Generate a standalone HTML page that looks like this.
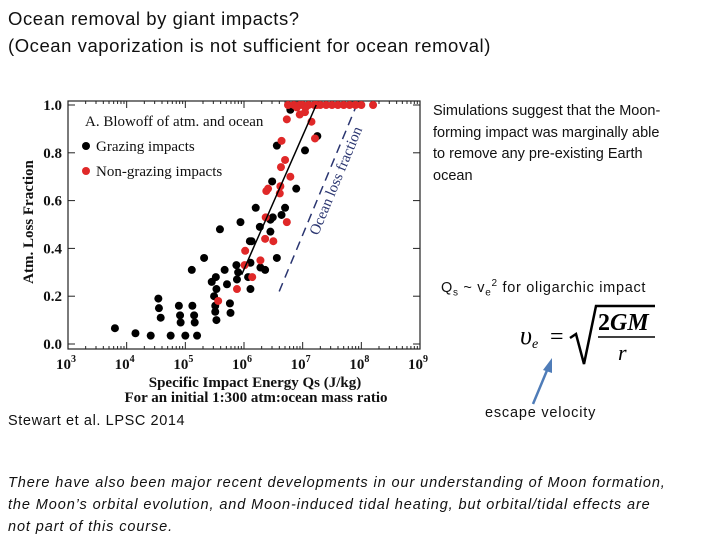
<!DOCTYPE html>
<html><head><meta charset="utf-8"><style>
body{margin:0;background:#fff;}
#root{position:relative;width:720px;height:540px;overflow:hidden;font-family:"Liberation Sans",sans-serif;color:#111;}
.t{position:absolute;white-space:nowrap;}
</style></head><body>
<div id="root">
<div class="t" style="left:8px;top:5px;font-size:18.5px;line-height:27px;letter-spacing:0.55px;">Ocean removal by giant impacts?<br>(Ocean vaporization is not sufficient for ocean removal)</div>
<div class="t" style="left:433px;top:101px;font-size:14.5px;line-height:21.5px;">Simulations suggest that the Moon-<br>forming impact was marginally able<br>to remove any pre-existing Earth<br>ocean</div>
<div class="t" style="left:441px;top:278px;font-size:14.5px;letter-spacing:0.7px;">Q<sub style="font-size:10px">s</sub> ~ v<sub style="font-size:10px">e</sub><sup style="font-size:10px">2</sup> for oligarchic impact</div>
<svg style="position:absolute;left:490px;top:300px" width="180" height="70">
<text x="30" y="44" font-family="Liberation Serif" font-style="italic" font-size="26">υ<tspan font-size="14" dy="4">e</tspan></text>
<text x="60" y="44" font-family="Liberation Serif" font-size="24">=</text>
<path d="M80 38 L86 34 L94 64 L106 6 L165 6" stroke="#000" stroke-width="2.5" fill="none"/>
<text x="108" y="30" font-family="Liberation Serif" font-size="24" font-weight="bold">2<tspan font-style="italic">GM</tspan></text>
<line x1="108" y1="37" x2="165" y2="37" stroke="#000" stroke-width="1.5"/>
<text x="128" y="60" font-family="Liberation Serif" font-style="italic" font-size="22">r</text>
</svg>
<svg style="position:absolute;left:0;top:0" width="720" height="540">
<line x1="533" y1="404" x2="548" y2="368" stroke="#4f7cb8" stroke-width="2.5"/>
<polygon points="552,358 543,370 552,373" fill="#4f7cb8"/>
</svg>
<div class="t" style="left:485px;top:405px;font-size:14.5px;letter-spacing:0.8px;">escape velocity</div>
<div class="t" style="left:8px;top:413px;font-size:14.5px;letter-spacing:0.6px;">Stewart et al. LPSC 2014</div>
<div class="t" style="left:8px;top:472px;font-size:14.5px;line-height:22px;font-style:italic;letter-spacing:0.9px;">There have also been major recent developments in our understanding of Moon formation,<br>the Moon’s orbital evolution, and Moon-induced tidal heating, but orbital/tidal effects are<br>not part of this course.</div>
<svg id="chart" style="position:absolute;left:0;top:0" width="720" height="540"></svg>
</div>
<script>
const grazingQ=[3.80,4.15,4.41,4.75,5.00,5.20,4.54,4.55,4.58,4.89,4.91,4.92,5.12,5.15,5.16,5.11,5.32,5.45,5.52,5.49,5.51,5.51,5.53,5.53,5.59,5.67,5.71,5.76,5.77,5.87,5.88,5.94,5.90,6.07,6.10,6.13,6.11,6.11,6.20,6.27,6.28,6.36,6.45,6.45,6.48,6.49,6.56,6.56,6.70,6.64,6.89,6.79,7.04,7.25];
const grazingF=[0.066,0.045,0.035,0.035,0.035,0.035,0.19,0.15,0.11,0.16,0.12,0.09,0.16,0.12,0.09,0.31,0.36,0.26,0.28,0.20,0.16,0.135,0.10,0.23,0.48,0.31,0.25,0.17,0.13,0.33,0.27,0.51,0.30,0.28,0.43,0.43,0.34,0.23,0.57,0.49,0.32,0.31,0.47,0.52,0.68,0.53,0.36,0.83,0.57,0.54,0.65,0.98,0.81,0.87];
const nonGrazingQ=[5.56,5.88,6.01,6.02,6.14,6.28,6.36,6.38,6.41,6.50,6.37,6.61,6.62,6.63,6.64,6.70,6.73,6.79,6.73,6.95,7.04,7.15,7.21,7.24,6.75,6.85,6.95,7.0,7.1,7.2,7.3,7.4,7.5,7.6,7.7,7.8,7.9,8.0,8.2,6.9,7.05];
const nonGrazingF=[0.18,0.23,0.33,0.39,0.28,0.35,0.44,0.64,0.65,0.43,0.53,0.63,0.66,0.74,0.85,0.77,0.51,0.70,0.94,0.96,0.97,0.93,0.86,1.0,1.0,1.0,1.0,1.0,1.0,1.0,1.0,1.0,1.0,1.0,1.0,1.0,1.0,1.0,1.0,0.99,0.99];
const fitQ=[5.96,7.23], fitF=[0.29,1.0];
const oceanQ=[6.60,7.92], oceanF=[0.22,1.0];
const xTicks=[3,4,5,6,7,8,9];
const yTicks=[0,0.2,0.4,0.6,0.8,1.0];
const L=68,R=420,T=101,B=349;
const X=q=>L+(q-3)/6*(R-L);
const Y=f=>344-f*(344-105);
const svg=document.getElementById('chart');
const NS='http://www.w3.org/2000/svg';
function mk(tag,attrs){const e=document.createElementNS(NS,tag);for(const k in attrs)e.setAttribute(k,attrs[k]);svg.appendChild(e);return e;}
let e=mk('rect',{x:L,y:T,width:R-L,height:B-T,fill:'none',stroke:'#222','stroke-width':1.2});


xTicks.forEach(v=>{
 const x=X(v);
 let t=mk('line',{x1:x,y1:B,x2:x,y2:B-7,stroke:'#222'});
 
 
 mk('line',{x1:x,y1:T,x2:x,y2:T+7,stroke:'#222'});
 if(v<9)for(let m=2;m<10;m++){const xm=X(v+Math.log10(m));mk('line',{x1:xm,y1:B,x2:xm,y2:B-3,stroke:'#222'});mk('line',{x1:xm,y1:T,x2:xm,y2:T+3,stroke:'#222'});}
 let lb=mk('text',{x:x-2,y:369,'font-family':'Liberation Serif','font-size':15,'font-weight':'bold','text-anchor':'middle',fill:'#111'});
 lb.textContent='10';
 const s=document.createElementNS(NS,'tspan');s.setAttribute('dy','-7');s.setAttribute('font-size','10');s.textContent=v;lb.appendChild(s);
 
 
});
yTicks.forEach(v=>{
 const y=Y(v);
 let t=mk('line',{x1:L,y1:y,x2:L+7,y2:y,stroke:'#222'});
 
 
 mk('line',{x1:R,y1:y,x2:R-7,y2:y,stroke:'#222'});
 let lb=mk('text',{x:62,y:y+5,'font-family':'Liberation Serif','font-size':15,'font-weight':'bold','text-anchor':'end',fill:'#111'});
 lb.textContent=v.toFixed(1);
 
 
});
let yt=mk('text',{x:0,y:0,transform:'translate(33,222) rotate(-90)','font-family':'Liberation Serif','font-size':15,'font-weight':'bold','text-anchor':'middle',fill:'#111'});
yt.textContent='Atm. Loss Fraction';


let xt=mk('text',{x:255,y:387,'font-family':'Liberation Serif','font-size':15,'font-weight':'bold','text-anchor':'middle',fill:'#111'});
xt.textContent='Specific Impact Energy Qs (J/kg)';


let xt2=mk('text',{x:256,y:402,'font-family':'Liberation Serif','font-size':15,'font-weight':'bold','text-anchor':'middle',fill:'#111'});
xt2.textContent='For an initial 1:300 atm:ocean mass ratio';


let oc=mk('line',{x1:X(oceanQ[0]),y1:Y(oceanF[0]),x2:X(oceanQ[1]),y2:Y(oceanF[1]),stroke:'#2a3570','stroke-width':1.5,'stroke-dasharray':'9,6'});


const ang=Math.atan2(Y(oceanF[1])-Y(oceanF[0]),X(oceanQ[1])-X(oceanQ[0]))*180/Math.PI;
let ol=mk('text',{x:0,y:0,transform:`translate(318,236) rotate(${ang})`,'font-family':'Liberation Serif','font-size':15,fill:'#2a3570'});
ol.textContent='Ocean loss fraction';


grazingQ.forEach((q,i)=>{
 let c=mk('circle',{cx:X(q),cy:Y(grazingF[i]),r:4,fill:'#000'});
 
 
});
nonGrazingQ.forEach((q,i)=>{
 let c=mk('circle',{cx:X(q),cy:Y(nonGrazingF[i]),r:4,fill:'#e02828'});
 
 
});
let fl=mk('line',{x1:X(fitQ[0]),y1:Y(fitF[0]),x2:X(fitQ[1]),y2:Y(fitF[1]),stroke:'#000','stroke-width':1.5});


let lt=mk('text',{x:85,y:126,'font-family':'Liberation Serif','font-size':15,fill:'#111'});
lt.textContent='A. Blowoff of atm. and ocean';


[['Grazing impacts','#000',151],['Non-grazing impacts','#e02828',176]].forEach(d=>{
 let c=mk('circle',{cx:86,cy:d[2]-5,r:4,fill:d[1]});
 
 
 let t=mk('text',{x:96,y:d[2],'font-family':'Liberation Serif','font-size':15,fill:'#111'});
 t.textContent=d[0];
 
 
});
</script>
</body></html>
